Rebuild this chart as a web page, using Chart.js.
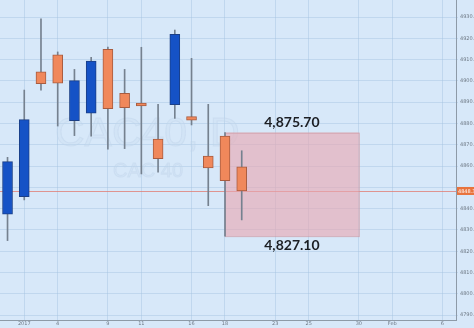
<!DOCTYPE html>
<html>
<head>
<meta charset="utf-8">
<script src="https://cdn.jsdelivr.net/npm/chart.js@4/dist/chart.umd.min.js"></script>
<style>
  html, body { margin: 0; padding: 0; background: #d7e8f9; }
  #wrap { width: 474px; height: 328px; position: relative; }
</style>
</head>
<body>
<div id="wrap"><canvas id="chart"></canvas></div>
<script>
// trading days, Dec 30 2016 .. Feb 6 2017
const days = ['Dec 30', 'Jan 2', 'Jan 3', 'Jan 4', 'Jan 5', 'Jan 6', 'Jan 9', 'Jan 10', 'Jan 11',
  'Jan 12', 'Jan 13', 'Jan 16', 'Jan 17', 'Jan 18', 'Jan 19', 'Jan 20', 'Jan 23', 'Jan 24',
  'Jan 25', 'Jan 26', 'Jan 27', 'Jan 30', 'Jan 31', 'Feb 1', 'Feb 2', 'Feb 3', 'Feb 6'];
const tickLabels = ['', '2017', '', '4', '', '', '9', '', '11', '', '', '16', '', '18', '',
  '', '23', '', '25', '', '', '30', '', 'Feb', '', '', '6'];

// CAC 40 daily candles
const opens  = [4837.4, 4845.6, 4904.3, 4912.3, 4881.3, 4884.8, 4914.8, 4894.2, 4889.6, 4872.7, 4888.8, 4883.2, 4864.7, 4874.1, 4859.7];
const highs  = [4864.1, 4895.7, 4929.1, 4913.6, 4905.4, 4911.1, 4915.9, 4905.4, 4915.8, 4889.0, 4923.9, 4910.6, 4889.0, 4875.7, 4867.2];
const lows   = [4825.0, 4844.1, 4895.7, 4878.8, 4874.3, 4874.1, 4867.9, 4868.2, 4856.3, 4857.1, 4882.4, 4879.3, 4841.4, 4827.1, 4834.7];
const closes = [4862.1, 4881.8, 4898.7, 4898.9, 4900.1, 4909.3, 4887.0, 4887.4, 4888.2, 4863.5, 4921.9, 4881.5, 4859.1, 4853.1, 4848.3];

const zoneHigh = 4875.70;
const zoneLow = 4827.10;
const zoneFrom = 'Jan 18';
const zoneTo = 'Jan 30';
const lastPrice = 4848.3;

const up = closes.map((c, i) => c >= opens[i]);
const bodies = opens.map((o, i) => ({ x: i, y: [o, closes[i]] }));
const wicks = lows.map((l, i) => ({ x: i, y: [l, highs[i]] }));

const overlay = {
  id: 'overlay',
  beforeDatasetsDraw(chart) {
    const ctx = chart.ctx, x = chart.scales.x, y = chart.scales.y, a = chart.chartArea;
    ctx.save();
    // watermark
    ctx.fillStyle = 'rgba(200,218,238,0.3)';
    ctx.strokeStyle = 'rgba(190,210,232,0.4)';
    ctx.lineWidth = 1;
    ctx.font = '41px "Liberation Sans"';
    ctx.textBaseline = 'alphabetic';
    ctx.fillText('CAC40, D', 55, 146);
    ctx.strokeText('CAC40, D', 55, 146);
    ctx.font = '20px "Liberation Sans"';
    ctx.fillText('CAC 40', 113, 177);
    ctx.strokeText('CAC 40', 113, 177);

    // last price line
    const py = Math.round(y.getPixelForValue(lastPrice)) + 0.5;
    ctx.strokeStyle = 'rgba(226,120,108,0.75)';
    ctx.beginPath();
    ctx.moveTo(a.left, py);
    ctx.lineTo(a.right, py);
    ctx.stroke();

    // zone box
    const x1 = x.getPixelForValue(days.indexOf(zoneFrom));
    const x2 = x.getPixelForValue(days.indexOf(zoneTo));
    const y1 = y.getPixelForValue(zoneHigh);
    const y2 = y.getPixelForValue(zoneLow);
    ctx.fillStyle = 'rgba(232,168,178,0.62)';
    ctx.fillRect(x1, y1, x2 - x1, y2 - y1);
    ctx.strokeStyle = 'rgba(205,150,160,0.7)';
    ctx.strokeRect(x1 + 0.5, y1 + 0.5, x2 - x1, y2 - y1);
    ctx.restore();
  },
  afterDraw(chart) {
    const ctx = chart.ctx, x = chart.scales.x, y = chart.scales.y, a = chart.chartArea;
    ctx.save();
    const cx = (x.getPixelForValue(days.indexOf(zoneFrom)) + x.getPixelForValue(days.indexOf(zoneTo))) / 2;
    ctx.fillStyle = '#1c1f24';
    ctx.font = 'bold 14px Lato';
    ctx.textAlign = 'center';
    ctx.textBaseline = 'middle';
    ctx.fillText(zoneHigh.toLocaleString('en-US', { minimumFractionDigits: 2 }), cx, y.getPixelForValue(zoneHigh) - 10);
    ctx.fillText(zoneLow.toLocaleString('en-US', { minimumFractionDigits: 2 }), cx, y.getPixelForValue(zoneLow) + 9);

    // last price tag on the axis
    const py = y.getPixelForValue(lastPrice);
    ctx.fillStyle = '#e8733d';
    ctx.fillRect(a.right + 1, py - 4, 17, 8);
    ctx.fillStyle = '#ffffff';
    ctx.font = '5px "DejaVu Sans"';
    ctx.textAlign = 'left';
    ctx.fillText(lastPrice.toFixed(1), a.right + 2, py + 0.5);
    ctx.restore();
  }
};

new Chart(document.getElementById('chart'), {
  type: 'bar',
  data: {
    datasets: [
      {
        data: bodies,
        backgroundColor: up.map(u => u ? '#1552c6' : '#f0885b'),
        borderColor: up.map(u => u ? '#1b3f86' : '#a85c40'),
        borderWidth: 1,
        borderSkipped: false,
        barThickness: 10,
        grouped: false
      },
      {
        data: wicks,
        backgroundColor: '#75818f',
        borderWidth: 0,
        barThickness: 1,
        grouped: false
      }
    ]
  },
  options: {
    responsive: true,
    maintainAspectRatio: false,
    animation: false,
    layout: { padding: 0 },
    plugins: { legend: { display: false }, tooltip: { enabled: false } },
    scales: {
      x: {
        type: 'linear',
        offset: false,
        min: -0.45,
        max: 26.81,
        afterBuildTicks: s => { s.ticks = tickLabels.map((t, i) => t ? { value: i } : null).filter(Boolean); },
        afterFit: s => { s.height = 8; s.paddingLeft = 0; s.paddingRight = 0; },
        ticks: {
          callback: v => tickLabels[v],
          font: { size: 5, family: 'DejaVu Sans' },
          color: '#6d7884',
          padding: 1,
          maxRotation: 0,
          autoSkip: false
        },
        grid: { color: 'rgba(165,195,225,0.45)', drawTicks: false, offset: false },
        border: { color: '#8d9aa7' }
      },
      y: {
        position: 'right',
        min: 4787.7,
        max: 4938,
        afterFit: s => { s.width = 18; s.paddingTop = 0; s.paddingBottom = 0; },
        ticks: {
          stepSize: 10,
          includeBounds: false,
          callback: v => v === 4850 ? '' : v.toFixed(1),
          font: { size: 5, family: 'DejaVu Sans' },
          color: '#6d7884',
          padding: 2
        },
        grid: { color: 'rgba(165,195,225,0.45)', tickLength: 2 },
        border: { color: '#8d9aa7' }
      }
    }
  },
  plugins: [overlay]
});
</script>
</body>
</html>
